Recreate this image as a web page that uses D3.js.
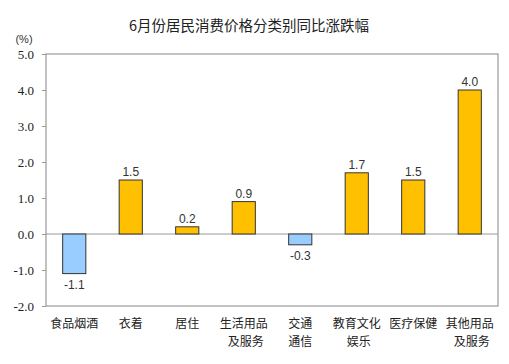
<!DOCTYPE html>
<html><head><meta charset="utf-8">
<script src="https://cdn.jsdelivr.net/npm/d3@7"></script>
<style>body{margin:0;background:#fff}</style>
</head><body>
<svg id="c" width="509" height="364"></svg>
<script>
const categories = [["食品烟酒"],["衣着"],["居住"],["生活用品","及服务"],["交通","通信"],["教育文化","娱乐"],["医疗保健"],["其他用品","及服务"]];
const values = [-1.1, 1.5, 0.2, 0.9, -0.3, 1.7, 1.5, 4.0];
const ticks = [-2, -1, 0, 1, 2, 3, 4, 5];
const title = "6月份居民消费价格分类别同比涨跌幅";

const svg = d3.select("#c");
const m = {l:46, r:498, t:54, b:306};
const x = d3.scaleBand().domain(d3.range(values.length)).range([m.l, m.r]).paddingInner(0.59).paddingOuter(0.295);
const y = d3.scaleLinear().domain([-2, 5]).range([m.b, m.t]);
const cjk = "'Noto Sans CJK SC', sans-serif";
const fmt = d => (d < 0 ? "-" : "") + Math.abs(d).toFixed(1);

svg.append("text").attr("x", 249).attr("y", 31).attr("text-anchor","middle")
  .attr("font-family", cjk).attr("font-size", 14.5).attr("fill","#222").text(title);
svg.append("text").attr("x", 24).attr("y", 43).attr("text-anchor","middle")
  .attr("font-family","'Liberation Sans', sans-serif").attr("font-size", 11).attr("fill","#333").text("(%)");

svg.append("rect").attr("x", m.l).attr("y", m.t).attr("width", m.r-m.l).attr("height", m.b-m.t)
  .attr("fill","none").attr("stroke","#999").attr("stroke-width",1.2);

const ax = svg.append("g").attr("transform", `translate(${m.l},0)`)
  .call(d3.axisLeft(y).tickValues(ticks).tickFormat(fmt).tickSize(4).tickPadding(8));
ax.select(".domain").remove();
ax.selectAll("line").attr("stroke","#999");
ax.selectAll("text").attr("font-family","'Liberation Serif', serif").attr("font-size", 13).attr("fill","#222");

svg.append("line").attr("x1", m.l).attr("x2", m.r).attr("y1", y(0)).attr("y2", y(0)).attr("stroke","#999").attr("stroke-width",1.2);

svg.selectAll("rect.bar").data(values).join("rect").attr("class","bar")
  .attr("x", (d,i)=>x(i)).attr("width", x.bandwidth())
  .attr("y", d=>y(Math.max(0,d))).attr("height", d=>Math.abs(y(d)-y(0)))
  .attr("fill", d=>d<0?"#99CCFF":"#FFC000").attr("stroke","#333").attr("stroke-width",1);

svg.selectAll("text.val").data(values).join("text").attr("class","val")
  .attr("x",(d,i)=>x(i)+x.bandwidth()/2)
  .attr("y", d=> d<0 ? y(d)+15 : y(d)-4)
  .attr("text-anchor","middle").attr("font-family","'Liberation Sans', sans-serif").attr("font-size", 12).attr("fill","#333")
  .text(fmt);

const lab = svg.selectAll("g.lab").data(categories).join("g").attr("class","lab");
lab.selectAll("text").data((d,i)=>d.map((s,j)=>({s,j,i}))).join("text")
  .attr("x", d=>x(d.i)+x.bandwidth()/2 + (d.j>0 && categories[d.i][0].length===4 ? 2 : 0))
  .attr("y", d=>328 + d.j*18)
  .attr("text-anchor","middle").attr("font-family", cjk).attr("font-size", 12).attr("fill","#222")
  .text(d=>d.s);
</script>
</body></html>
